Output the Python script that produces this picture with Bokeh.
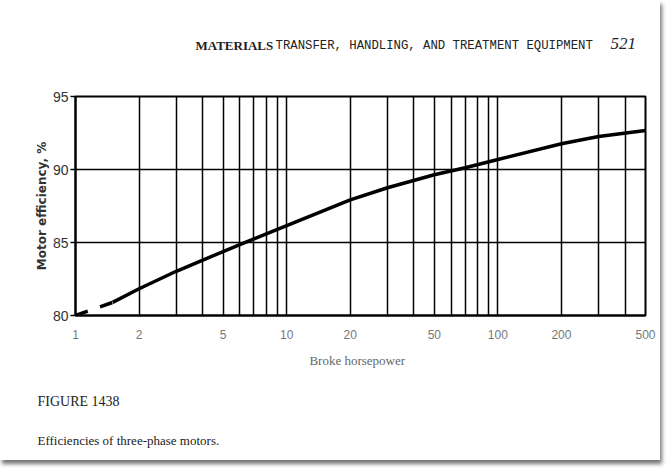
from bokeh.plotting import figure
from bokeh.layouts import column
from bokeh.models import FixedTicker, Label, PrintfTickFormatter, Title
from bokeh.embed import file_html
from bokeh.resources import INLINE

# ---- data ----
hp_dashed = [1, 1.5]
eff_dashed = [80.0, 80.9]
hp = [1.5, 2, 3, 5, 6, 7, 10, 20, 30, 50, 70, 100, 200, 300, 500]
eff = [80.9, 81.83, 83.03, 84.38, 84.85, 85.25, 86.15, 87.92, 88.75, 89.64, 90.12, 90.68, 91.76, 92.26, 92.67]

x_major = [1, 2, 5, 10, 20, 50, 100, 200, 500]
x_minor = [3, 4, 6, 7, 8, 9, 30, 40, 60, 70, 80, 90, 300, 400]
y_major = [80, 85, 90, 95]

header_bold = "MATERIALS"
header_rest = "TRANSFER, HANDLING, AND TREATMENT EQUIPMENT"
page_no = "521"
fig_no = "FIGURE 1438"
caption = "Efficiencies  of  three-phase  motors."
x_label = "Broke   horsepower"
y_label = "Motor efficiency, %"

W = 660
TOP_H, MAIN_H = 70, 390                     # stacked page bands
FL, FT, FR, FB = 75, 96, 645, 315           # frame edges on the page

# header band (its frame is aligned with the chart frame, so x = page x)
top = figure(width=W, height=TOP_H, x_range=(FL, FR), y_range=(TOP_H, 0),
             output_backend="svg", toolbar_location=None,
             min_border_left=FL, min_border_right=W - FR, min_border_top=0, min_border_bottom=0)
top.axis.visible = False
top.grid.visible = False
top.outline_line_color = None
top.background_fill_color = "white"
top.border_fill_color = "white"


def lab(text, x, y, font, size, style="normal", color="#222222"):
    top.add_layout(Label(x=x, y=y, text=text, text_font=font, text_font_size=size,
                         text_font_style=style, text_color=color,
                         text_baseline="middle", text_align="left"))


lab(header_bold, 195, 45, "Liberation Serif", "13px", "bold")
lab(header_rest, 275, 45, "Liberation Mono", "12.3px")
lab(page_no, 610, 43, "Liberation Serif", "17px", "italic")

p = figure(width=W, height=MAIN_H, x_axis_type="log", x_range=(1, 500), y_range=(80, 95),
           output_backend="svg", toolbar_location=None,
           min_border_left=FL, min_border_right=W - FR,
           min_border_top=FT - TOP_H, min_border_bottom=TOP_H + MAIN_H - FB)
p.background_fill_color = "white"
p.border_fill_color = "white"
p.outline_line_color = "black"
p.outline_line_width = 2

# x axis
p.xaxis.ticker = FixedTicker(ticks=x_major, minor_ticks=x_minor)
p.xaxis.formatter = PrintfTickFormatter(format="%d")
p.xaxis.major_tick_out = 0
p.xaxis.major_tick_in = 0
p.xaxis.minor_tick_out = 0
p.xaxis.minor_tick_in = 0
p.xaxis.axis_line_width = 2
p.xaxis.major_label_text_font = "Liberation Sans"
p.xaxis.major_label_text_font_size = "12px"
p.xaxis.major_label_text_color = "#777777"
p.xaxis.major_label_standoff = 14
p.xaxis.axis_label = x_label
p.xaxis.axis_label_text_font = "Liberation Serif"
p.xaxis.axis_label_text_font_style = "normal"
p.xaxis.axis_label_text_font_size = "13px"
p.xaxis.axis_label_text_color = "#666666"
p.xaxis.axis_label_standoff = 11

# y axis
p.yaxis.ticker = FixedTicker(ticks=y_major)
p.yaxis.major_tick_out = 5
p.yaxis.major_tick_in = 0
p.yaxis.major_tick_line_width = 1.5
p.yaxis.minor_tick_out = 0
p.yaxis.minor_tick_in = 0
p.yaxis.axis_line_width = 2
p.yaxis.major_label_text_font = "Liberation Sans"
p.yaxis.major_label_text_font_size = "14px"
p.yaxis.major_label_text_color = "#333333"
p.yaxis.major_label_standoff = 2
p.yaxis.axis_label = y_label
p.yaxis.axis_label_text_font = "DejaVu Sans"
p.yaxis.axis_label_text_font_style = "bold"
p.yaxis.axis_label_text_font_size = "12px"
p.yaxis.axis_label_text_color = "#333333"
p.yaxis.axis_label_standoff = 1

# grid
p.xgrid.grid_line_color = "black"
p.xgrid.grid_line_width = 1.5
p.xgrid.minor_grid_line_color = "black"
p.xgrid.minor_grid_line_width = 1.5
p.ygrid.grid_line_color = "black"
p.ygrid.grid_line_width = 1.5

# curve
p.line(hp_dashed, eff_dashed, line_color="black", line_width=3.5, line_dash="13 13")
p.line(hp, eff, line_color="black", line_width=3.5)

# caption below the chart
t1 = Title(text=fig_no, align="left", offset=37 - FL, standoff=43,
           text_font="Liberation Serif", text_font_size="14px",
           text_font_style="normal", text_color="#222222")
t2 = Title(text=caption, align="left", offset=37 - FL, standoff=0,
           text_font="Liberation Serif", text_font_size="13px",
           text_font_style="normal", text_color="#222222")
p.add_layout(t1, "below")
p.add_layout(t2, "below")

layout = column(top, p, spacing=0)
layout.styles = {"box-shadow": "2px 4px 4px #777"}

open("out.html", "w").write(file_html(layout, INLINE))
